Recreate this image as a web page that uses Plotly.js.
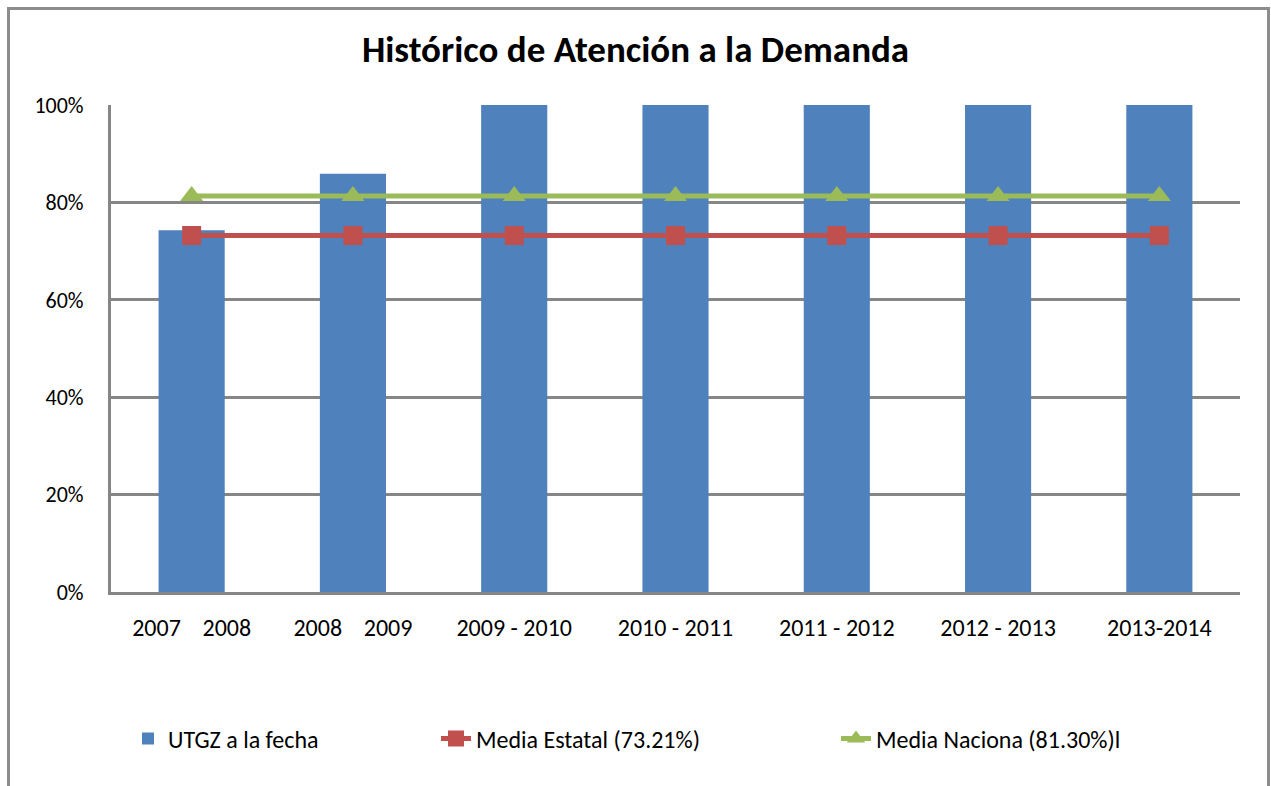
<!DOCTYPE html>
<html>
<head>
<meta charset="utf-8">
<script src="https://cdn.plot.ly/plotly-3.0.1.min.js"></script>
<style>
  html, body { margin: 0; padding: 0; background: #fff; overflow: hidden; }
  #chart { width: 1271px; height: 786px; }
  #frame { position: absolute; left: 7px; top: 7px; width: 1263px; height: 800px;
           border: 3px solid #8c8c8c; pointer-events: none; box-sizing: border-box; }
</style>
</head>
<body>
<div id="chart"></div>
<div id="frame"></div>
<script>
const categories = ["2007\u00a0\u00a0\u00a0\u00a02008", "2008\u00a0\u00a0\u00a0\u00a02009", "2009 - 2010", "2010 - 2011", "2011 - 2012", "2012 - 2013", "2013-2014"];
const utgz = [0.743, 0.859, 1.0, 1.0, 1.0, 1.0, 1.0];
const mediaEstatal = [0.7321, 0.7321, 0.7321, 0.7321, 0.7321, 0.7321, 0.7321];
const mediaNacional = [0.813, 0.813, 0.813, 0.813, 0.813, 0.813, 0.813];

const FONT = "Carlito, Lato, 'Open Sans', sans-serif";

const traces = [
  { type: "bar", x: categories, y: utgz, name: "UTGZ a la fecha",
    marker: { color: "#4F81BD" }, legend: "legend" },
  { type: "scatter", mode: "lines+markers", x: categories, y: mediaEstatal,
    name: "Media Estatal (73.21%)",
    line: { color: "#C0504D", width: 5 },
    marker: { symbol: "square", size: 19, color: "#C0504D" }, legend: "legend2" },
  { type: "scatter", mode: "lines+markers", x: categories, y: mediaNacional,
    name: "Media Naciona (81.30%)l",
    line: { color: "#9BBB59", width: 5 },
    marker: { symbol: "triangle-up", size: 20, color: "#9BBB59" }, legend: "legend3" }
];

const legendBase = { orientation: "h", xref: "container", yref: "container",
  yanchor: "middle", xanchor: "left", y: 1 - 739 / 786,
  font: { family: FONT, size: 24, color: "#000" }, bgcolor: "rgba(0,0,0,0)" };

const layout = {
  width: 1271, height: 786,
  margin: { l: 111, r: 31, t: 105, b: 194 },
  paper_bgcolor: "#fff", plot_bgcolor: "#fff",
  title: { text: "<b>Histórico de Atención a la Demanda</b>",
    font: { family: FONT, size: 37, color: "#000" },
    x: 0.5, xanchor: "center", y: 1 - 49 / 786, yanchor: "middle" },
  bargap: 0.59,
  showlegend: true,
  xaxis: { type: "category", showgrid: false, showline: true, linecolor: "#868686", linewidth: 3,
    ticks: "", ticklabelstandoff: 12,
    tickfont: { family: FONT, size: 24, color: "#000" } },
  yaxis: { range: [0, 1], tickformat: ".0%", dtick: 0.2, showgrid: true,
    gridcolor: "#868686", gridwidth: 3, zeroline: false,
    showline: true, linecolor: "#868686", linewidth: 3, ticks: "", ticklabelstandoff: 20,
    tickfont: { family: FONT, size: 22, color: "#000" } },
  legend: Object.assign({}, legendBase, { x: 128 / 1271 }),
  legend2: Object.assign({}, legendBase, { x: 436 / 1271 }),
  legend3: Object.assign({}, legendBase, { x: 836 / 1271 })
};

Plotly.newPlot("chart", traces, layout, { displayModeBar: false, staticPlot: true });
</script>
</body>
</html>
